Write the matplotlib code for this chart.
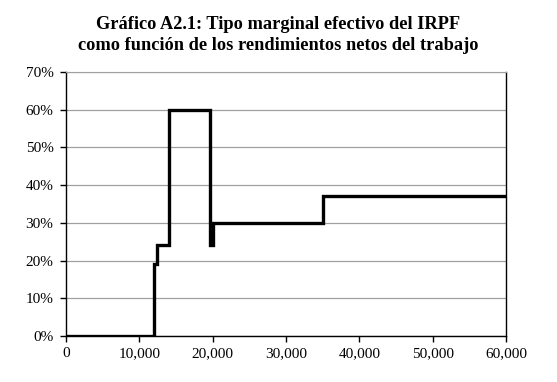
import matplotlib.pyplot as plt
from matplotlib.ticker import FuncFormatter, MultipleLocator

# income breakpoints (euros) and marginal rate for the step function
income = [0, 12000, 12000, 12400, 12400, 14000, 14000, 19700, 19700, 20000, 20000, 35000, 35000, 60000]
rate = [0.0, 0.0, 0.19, 0.19, 0.24, 0.24, 0.60, 0.60, 0.24, 0.24, 0.30, 0.30, 0.37, 0.37]

fig = plt.figure(figsize=(5.57, 3.82), dpi=100)
ax = fig.add_axes([0.1185, 0.1204, 0.7899, 0.6911])

ax.plot(income, rate, color='black', lw=2.4, solid_joinstyle='miter')

ax.set_xlim(0, 60000)
ax.set_ylim(0, 0.70)
ax.xaxis.set_major_locator(MultipleLocator(10000))
ax.yaxis.set_major_locator(MultipleLocator(0.10))
ax.xaxis.set_major_formatter(FuncFormatter(lambda v, p: f"{int(v):,}"))
ax.yaxis.set_major_formatter(FuncFormatter(lambda v, p: f"{v * 100:.0f}%"))

ax.grid(axis='y', color='#a0a0a0', lw=0.9)
ax.set_axisbelow(True)
ax.spines['top'].set_color('#a0a0a0')
for s in ['left', 'bottom', 'right']:
    ax.spines[s].set_color('black')
    ax.spines[s].set_linewidth(1.0)

ax.tick_params(axis='both', direction='out', length=4, width=1, labelsize=11)
ax.tick_params(axis='x', pad=4)
ax.tick_params(axis='y', pad=5)
for lab in ax.get_xticklabels() + ax.get_yticklabels():
    lab.set_fontfamily('Liberation Serif')

fig.suptitle("Gráfico A2.1: Tipo marginal efectivo del IRPF\ncomo función de los rendimientos netos del trabajo",
             y=0.958, fontsize=13.2, fontweight='bold', fontfamily='Liberation Serif', linespacing=1.3)

fig.savefig('out.png', dpi=100)
